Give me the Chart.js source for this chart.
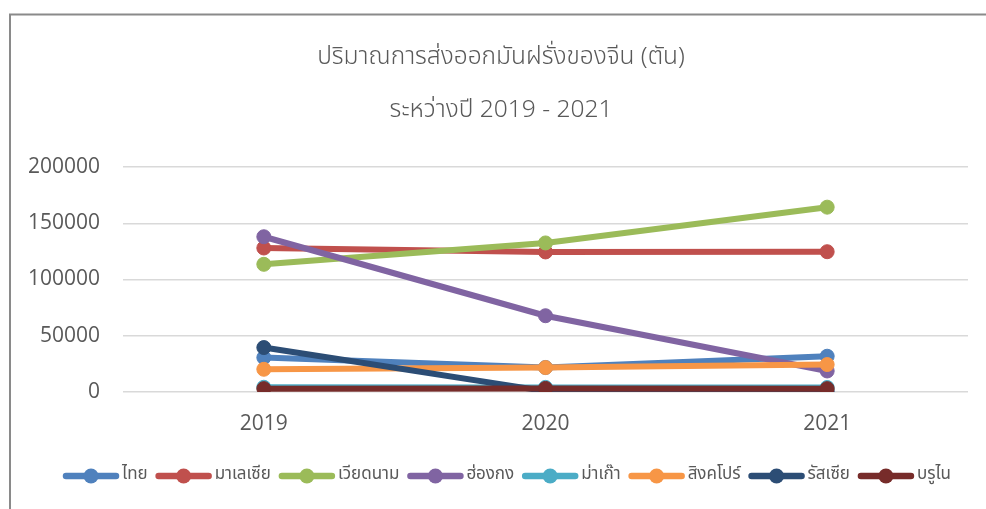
<!DOCTYPE html>
<html>
<head>
<meta charset="utf-8">
<script src="https://cdn.jsdelivr.net/npm/chart.js@4.4.1/dist/chart.umd.min.js"></script>
<style>
  html, body { margin: 0; padding: 0; background: #ffffff; }
  #wrap { width: 986px; height: 509px; position: relative; }
</style>
</head>
<body>
<div id="wrap"><canvas id="c" width="986" height="509"></canvas></div>
<script>
const titleLines = ['ปริมาณการส่งออกมันฝรั่งของจีน (ตัน)', 'ระหว่างปี 2019 - 2021'];
const years = ['2019', '2020', '2021'];
const seriesNames = ['ไทย', 'มาเลเซีย', 'เวียดนาม', 'ฮ่องกง', 'ม่าเก๊า', 'สิงคโปร์', 'รัสเซีย', 'บรูไน'];
const thailand  = [30600, 21800, 31800];
const malaysia  = [128000, 124500, 124700];
const vietnam   = [113500, 132500, 164300];
const hongkong  = [138000, 67800, 18700];
const macau     = [4200, 4100, 4000];
const singapore = [20200, 21700, 24400];
const russia    = [39500, 800, 300];
const brunei    = [3000, 3200, 3000];
const yTicks = [0, 50000, 100000, 150000, 200000];
const seriesColors = ['#4F81BD', '#C0504D', '#9BBB59', '#8064A2', '#4BACC6', '#F79646', '#2C4D75', '#772C2A'];

const seriesValues = [thailand, malaysia, vietnam, hongkong, macau, singapore, russia, brunei];
const N = seriesNames.length;

const THAI_FONT = '"Leelawadee UI", "Noto Sans Thai", "Noto Sans", sans-serif';
const NUM_FONT = '"Open Sans", "Liberation Sans", sans-serif';

const datasets = seriesNames.map((name, i) => ({
  label: name,
  data: seriesValues[i],
  borderColor: seriesColors[i],
  backgroundColor: seriesColors[i],
  pointBackgroundColor: seriesColors[i],
  pointBorderColor: seriesColors[i],
  borderWidth: 6,
  pointRadius: 7,
  pointBorderWidth: 1,
  pointHoverRadius: 7,
  tension: 0,
  fill: false,
  order: N - i
}));

const frame = {
  id: 'frame',
  afterLayout(chart) {
    const tb = chart.titleBlock;
    if (tb) { tb.left += 9; tb.right += 9; }
  },
  beforeDraw(chart) {
    const ctx = chart.ctx;
    ctx.save();
    ctx.fillStyle = '#ffffff';
    ctx.fillRect(0, 0, chart.width, chart.height);
    ctx.strokeStyle = '#8a8a8a';
    ctx.lineWidth = 2;
    ctx.beginPath();
    ctx.moveTo(10, chart.height + 2);
    ctx.lineTo(10, 14.5);
    ctx.lineTo(chart.width + 2, 14.5);
    ctx.stroke();
    ctx.restore();
  }
};

const customLegend = {
  id: 'customLegend',
  afterDraw(chart) {
    const ctx = chart.ctx;
    ctx.save();
    ctx.font = '17px ' + THAI_FONT;
    const markerW = 56, gapText = 3, gapItem = 8;
    const items = chart.data.datasets.map(ds => ({ label: ds.label, color: ds.borderColor, w: ctx.measureText(ds.label).width }));
    let total = 0;
    items.forEach((it, i) => { total += markerW + gapText + it.w + (i < items.length - 1 ? gapItem : 0); });
    let x = 507 - total / 2;
    const y = 476;
    items.forEach(it => {
      ctx.strokeStyle = it.color;
      ctx.lineWidth = 6.5;
      ctx.lineCap = 'round';
      ctx.beginPath();
      ctx.moveTo(x + 3, y);
      ctx.lineTo(x + markerW - 3, y);
      ctx.stroke();
      ctx.fillStyle = it.color;
      ctx.beginPath();
      ctx.arc(x + markerW / 2, y, 7.5, 0, Math.PI * 2);
      ctx.fill();
      ctx.fillStyle = '#595959';
      ctx.textAlign = 'left';
      ctx.textBaseline = 'middle';
      ctx.fillText(it.label, x + markerW + gapText, y);
      x += markerW + gapText + it.w + gapItem;
    });
    ctx.restore();
  }
};

new Chart(document.getElementById('c'), {
  type: 'line',
  data: { labels: years, datasets },
  options: {
    responsive: false,
    animation: false,
    events: [],
    layout: { padding: { left: 16, right: 18, top: 0, bottom: 75 } },
    plugins: {
      legend: { display: false },
      tooltip: { enabled: false },
      title: {
        display: true,
        text: titleLines,
        color: '#595959',
        font: { family: THAI_FONT, size: 24.5, weight: '300', lineHeight: 53 / 24.5 },
        padding: { top: 32.5, bottom: 28.5 }
      }
    },
    scales: {
      x: {
        type: 'category',
        offset: true,
        grid: { display: false, drawTicks: false },
        border: { display: false },
        ticks: { color: '#595959', font: { family: NUM_FONT, size: 21 }, padding: 19 },
        afterFit(scale) { scale.height = 42; }
      },
      y: {
        min: 0,
        max: 200000,
        afterBuildTicks(scale) { scale.ticks = yTicks.map(v => ({ value: v })); },
        grid: { color: '#d9d9d9', lineWidth: 1.5, drawTicks: false },
        border: { display: false },
        ticks: { color: '#595959', font: { family: NUM_FONT, size: 21 }, padding: 23, callback: v => String(v) },
        afterFit(scale) { scale.width = 107; }
      }
    }
  },
  plugins: [frame, customLegend]
});
</script>
</body>
</html>
